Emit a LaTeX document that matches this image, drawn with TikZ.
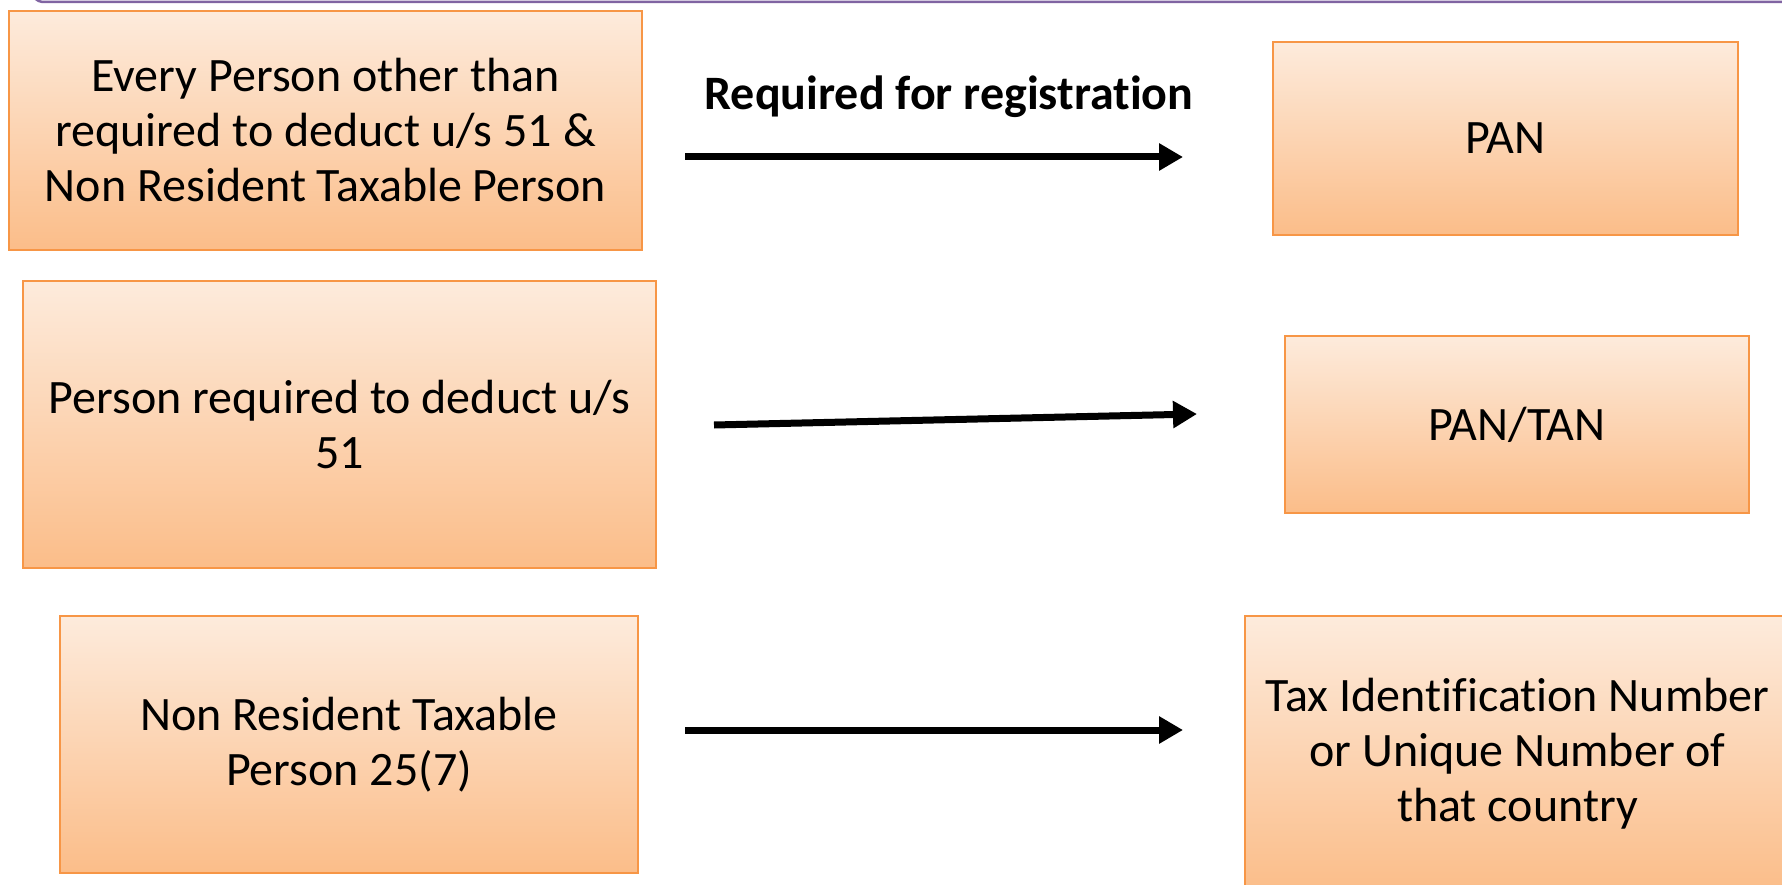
\documentclass[tikz,border=0pt]{standalone}
\usepackage{fontspec}
\setmainfont{Carlito}[RawFeature={-liga;-clig;-dlig;-rlig}]
\usetikzlibrary{arrows.meta}
\definecolor{boxtop}{HTML}{FDEBDC}
\definecolor{boxbot}{HTML}{FBBD89}
\definecolor{boxedge}{HTML}{F79646}
\definecolor{topline}{HTML}{8064A2}
\tikzset{
  box/.style={draw=boxedge, line width=2pt, top color=boxtop, bottom color=boxbot,
    rectangle, inner sep=0pt, align=center, text=black,
    font=\fontsize{48}{55}\selectfont},
  arr/.style={line width=7pt, -{Triangle[length=24pt,width=26pt]}, black},
  lbl/.style={font=\fontsize{48}{55}\selectfont\bfseries, text=black, inner sep=0pt}
}
\begin{document}
\begin{tikzpicture}[x=1pt,y=-1pt]
\clip (0,0) rectangle (1782,885);
\fill[white] (0,0) rectangle (1782,885);
\draw[topline, line width=2.5pt, rounded corners=14pt] (30,-30) -- (30,2) -- (1800,2);
\node[box, minimum width=633pt, minimum height=239pt] (b1) at (325.5,130.5)
  {Every Person other than\\required to deduct u/s 51 \&\\Non Resident Taxable Person};
\node[box, minimum width=633pt, minimum height=287pt] (b2) at (339.5,424.5)
  {Person required to deduct u/s\\51};
\node[box, minimum width=578pt, minimum height=257pt] (b3) at (349,744.5)
  {Non Resident Taxable\\Person 25(7)};
\node[box, minimum width=465pt, minimum height=193pt] (r1) at (1505.5,138.5) {PAN};
\node[box, minimum width=464pt, minimum height=177pt] (r2) at (1517,424.5) {PAN/TAN};
\node[box, minimum width=545pt, minimum height=276pt] (r3) at (1517.5,754)
  {Tax Identification Number\\or Unique Number of\\that country};
\node[lbl] (lab) at (949,97) {Required for registration};
\coordinate (a1s) at (685,157);
\coordinate (a1e) at (1183,157);
\coordinate (a2s) at (714,425);
\coordinate (a2e) at (1197,414);
\coordinate (a3s) at (685,730);
\coordinate (a3e) at (1183,730);
\draw[arr] (a1s) -- (a1e);
\draw[arr] (a2s) -- (a2e);
\draw[arr] (a3s) -- (a3e);
\end{tikzpicture}
\end{document}
